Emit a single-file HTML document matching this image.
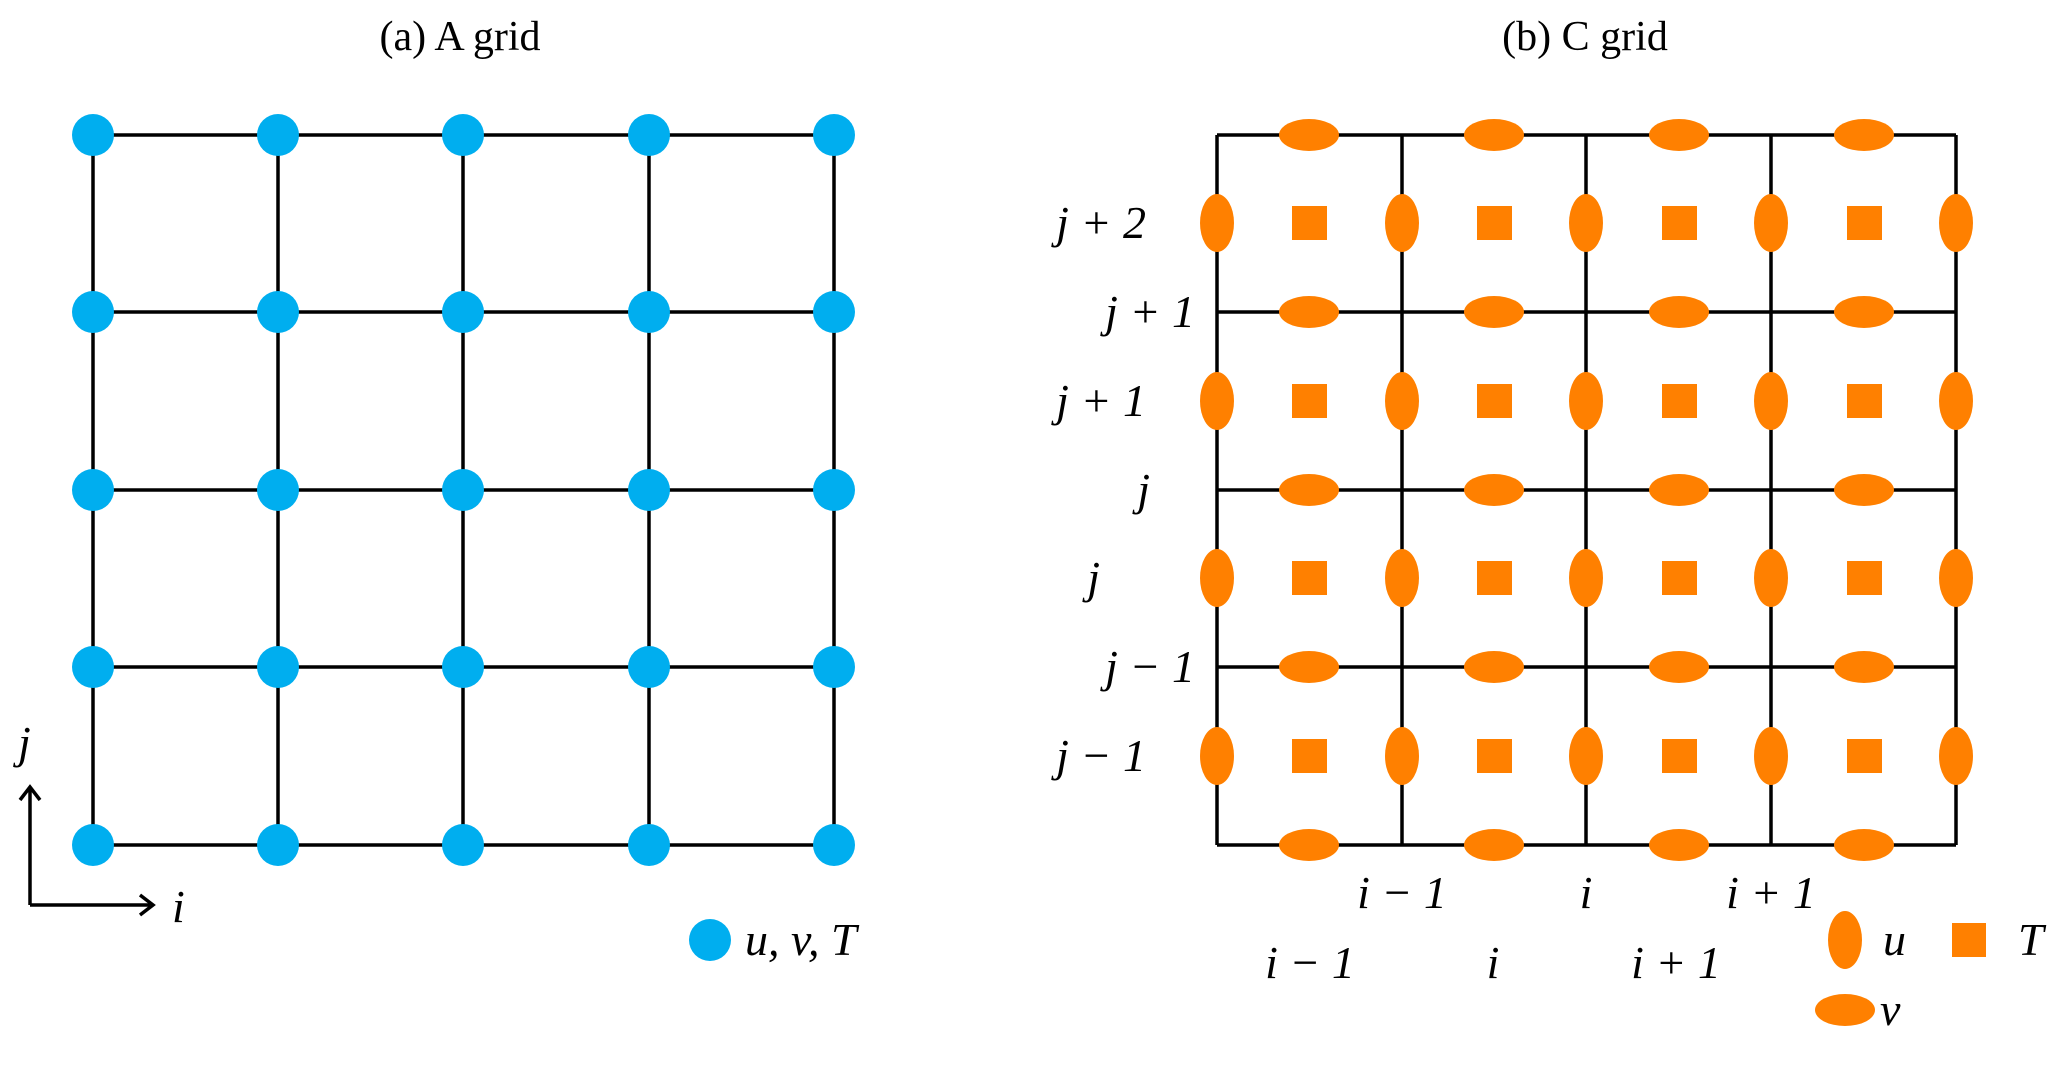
<!DOCTYPE html>
<html><head><style>body{margin:0;background:#fff}</style></head><body>
<svg width="2067" height="1077" xmlns="http://www.w3.org/2000/svg" font-family="Liberation Serif, serif">
<defs>
<g id="r"><circle cx="93" cy="0" r="21"/><circle cx="278" cy="0" r="21"/><circle cx="463" cy="0" r="21"/><circle cx="649" cy="0" r="21"/><circle cx="834" cy="0" r="21"/></g>
<g id="vr"><ellipse cx="1309" cy="0" rx="30" ry="16"/><ellipse cx="1494" cy="0" rx="30" ry="16"/><ellipse cx="1679" cy="0" rx="30" ry="16"/><ellipse cx="1864" cy="0" rx="30" ry="16"/></g>
<g id="ur"><ellipse cx="1217" cy="0" rx="17" ry="29"/><ellipse cx="1402" cy="0" rx="17" ry="29"/><ellipse cx="1586" cy="0" rx="17" ry="29"/><ellipse cx="1771" cy="0" rx="17" ry="29"/><ellipse cx="1956" cy="0" rx="17" ry="29"/>
<rect x="1292" y="-17" width="35" height="34"/><rect x="1477" y="-17" width="35" height="34"/><rect x="1662" y="-17" width="35" height="34"/><rect x="1847" y="-17" width="35" height="34"/></g>
</defs>
<rect width="2067" height="1077" fill="#fff"/>
<text x="460" y="50" font-size="42" text-anchor="middle">(a) A grid</text>
<text x="1585" y="50" font-size="42" text-anchor="middle">(b) C grid</text>
<g stroke="#000" stroke-width="3.5" fill="none">
<path d="M93 135H834M93 312H834M93 490H834M93 667H834M93 845H834M93 135V845M278 135V845M463 135V845M649 135V845M834 135V845"/>
<path d="M1217 135H1956M1217 312H1956M1217 490H1956M1217 667H1956M1217 845H1956M1217 135V845M1402 135V845M1586 135V845M1771 135V845M1956 135V845"/>
<path d="M30 905V790M30 905H150M20 800L30 787L40 800M140 895L153 905L140 915"/>
</g>
<g fill="#00AEEF">
<use href="#r" y="135"/><use href="#r" y="312"/><use href="#r" y="490"/><use href="#r" y="667"/><use href="#r" y="845"/>
<circle cx="710" cy="940" r="21"/>
</g>
<g fill="#FF8000">
<use href="#vr" y="135"/><use href="#vr" y="312"/><use href="#vr" y="490"/><use href="#vr" y="667"/><use href="#vr" y="845"/>
<use href="#ur" y="223"/><use href="#ur" y="401"/><use href="#ur" y="578"/><use href="#ur" y="756"/>
<ellipse cx="1845" cy="940" rx="17" ry="29"/>
<rect x="1952" y="923" width="34" height="34"/>
<ellipse cx="1845" cy="1010" rx="30" ry="16"/>
</g>
<g font-size="46" font-style="italic">
<text x="18" y="758">j</text>
<text x="172" y="922">i</text>
<text x="745" y="955">u, v, T</text>
<text x="1883" y="955">u</text>
<text x="2018" y="955">T</text>
<text x="1880" y="1025">v</text>
</g>
<g font-size="46" font-style="italic" text-anchor="end">
<text x="1146" y="238">j + 2</text>
<text x="1195" y="327">j + 1</text>
<text x="1146" y="416">j + 1</text>
<text x="1150" y="505">j</text>
<text x="1100" y="593">j</text>
<text x="1195" y="682">j − 1</text>
<text x="1146" y="771">j − 1</text>
</g>
<g font-size="46" font-style="italic" text-anchor="middle">
<text x="1402" y="908">i − 1</text>
<text x="1586" y="908">i</text>
<text x="1771" y="908">i + 1</text>
<text x="1310" y="978">i − 1</text>
<text x="1493" y="978">i</text>
<text x="1676" y="978">i + 1</text>
</g>
</svg>
</body></html>
